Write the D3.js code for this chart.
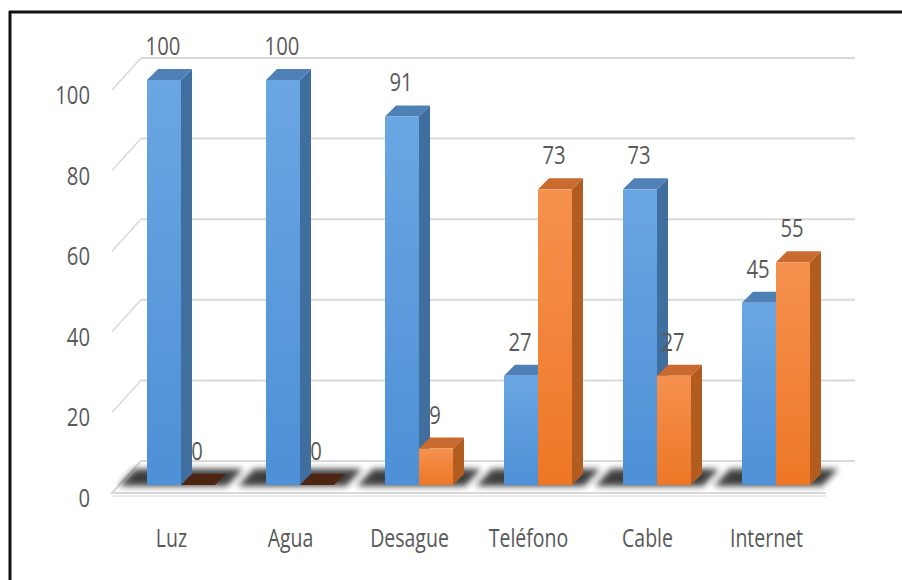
<!DOCTYPE html>
<html><head><meta charset="utf-8">
<script src="https://cdn.jsdelivr.net/npm/d3@7"></script>
<style>html,body{margin:0;padding:0;background:#fff;overflow:hidden}</style>
</head><body>
<svg id="c" width="902" height="580"></svg>
<script>
const categories = ["Luz","Agua","Desague","Teléfono","Cable","Internet"];
const seriesSi = [100,100,91,27,73,45];
const seriesNo = [0,0,9,73,27,55];
const tickValues = [0,20,40,60,80,100];

const svg = d3.select("#c");
const W = 902, H = 580;
const font = "'Open Sans', 'Noto Sans', sans-serif";
const txtCol = "#595959";
const sx = 0.78;

// depth projection of the 3D frame
const DX = 29, DY = -32;
const fx0 = 112, fx1 = 826;
const yFront = d3.scaleLinear().domain([0,100]).range([493, 90]);
const x0 = d3.scaleBand().domain(categories).range([fx0, fx1]);
const x1 = d3.scaleBand().domain(["si","no"]).range([0, 68]);
const yBar = d3.scaleLinear().domain([0,100]).range([485, 80]);
const BOX = 9.5; // bar face x offset into depth
const TD = 11;   // bar top depth

const defs = svg.append("defs");
function grad(id, c1, c2){
  const g = defs.append("linearGradient").attr("id", id).attr("x1",0).attr("y1",0).attr("x2",0).attr("y2",1);
  g.append("stop").attr("offset","0%").attr("stop-color",c1);
  g.append("stop").attr("offset","100%").attr("stop-color",c2);
}
grad("gBlue", "#6aa6e2", "#4d90d6");
grad("gOrange", "#f5914e", "#ee7726");
defs.append("filter").attr("id","blur").attr("x","-50%").attr("y","-50%").attr("width","200%").attr("height","200%")
  .append("feGaussianBlur").attr("stdDeviation", 3);

// frame
svg.append("line").attr("x1",9).attr("x2",W).attr("y1",12).attr("y2",12).attr("stroke","#111").attr("stroke-width",3);
svg.append("line").attr("x1",10).attr("x2",10).attr("y1",11).attr("y2",H).attr("stroke","#111").attr("stroke-width",3);

// floor
const fy0 = yFront(0);
svg.append("polyline")
  .attr("points", [[fx1,fy0],[fx0,fy0],[fx0+DX,fy0+DY],[fx1+DX,fy0+DY]].map(p=>p.join(",")).join(" "))
  .attr("fill","none").attr("stroke","#d9d9d9").attr("stroke-width",2);
svg.append("line").attr("x1",fx0).attr("x2",fx1).attr("y1",fy0+3).attr("y2",fy0+3).attr("stroke","#ececec").attr("stroke-width",2);

// gridlines back wall + side wall diagonals
tickValues.forEach(v=>{
  const yf = yFront(v), yb = yf + DY;
  if (v>0){
    svg.append("line").attr("x1",fx0+DX).attr("x2",fx1+DX).attr("y1",yb).attr("y2",yb)
      .attr("stroke","#d9d9d9").attr("stroke-width",2);
    svg.append("line").attr("x1",fx0).attr("x2",fx0+DX).attr("y1",yf).attr("y2",yb)
      .attr("stroke","#d9d9d9").attr("stroke-width",1.5);
  }
  svg.append("text").attr("transform",`translate(90,${yf+4}) scale(${sx},1)`)
    .attr("text-anchor","end").attr("dominant-baseline","central")
    .attr("font-family",font).attr("font-size",26).attr("fill",txtCol).text(v);
});

// shadows
categories.forEach((c,i)=>{
  const gx = x0(c) + x0.bandwidth()/2 - 34 + BOX;
  const yb = yBar(0);
  svg.append("polygon")
    .attr("points", [[gx-28,yb+1],[gx+68+12,yb+1],[gx+68+28,yb-16],[gx-12,yb-16]].map(p=>p.join(",")).join(" "))
    .attr("fill","#1a1a1a").attr("opacity",0.85).attr("filter","url(#blur)");
});

// bars
const series = [
  {key:"si", vals:seriesSi, front:"url(#gBlue)", side:"#3f6e9f", top:"#4f80b6"},
  {key:"no", vals:seriesNo, front:"url(#gOrange)", side:"#b35c1f", top:"#c96a2f"}
];
const bars = [];
categories.forEach((c,i)=>{
  series.forEach(s=>{
    const v = s.vals[i];
    const xl = x0(c) + x0.bandwidth()/2 - 34 + BOX + x1(s.key);
    bars.push({c, v, s, xl, w: x1.bandwidth()});
  });
});
bars.forEach(b=>{
  const g = svg.append("g");
  const yt = yBar(b.v), yb = yBar(0), xr = b.xl + b.w;
  if (b.v === 0){
    g.append("polygon").attr("points",[[b.xl,yb],[xr,yb],[xr+TD,yb-TD],[b.xl+TD,yb-TD]].map(p=>p.join(",")).join(" "))
      .attr("fill","#4e2512");
  } else {
    g.append("polygon").attr("points",[[xr,yt],[xr+TD,yt-TD],[xr+TD,yb-TD],[xr,yb]].map(p=>p.join(",")).join(" "))
      .attr("fill",b.s.side);
    g.append("polygon").attr("points",[[b.xl,yt],[xr,yt],[xr+TD,yt-TD],[b.xl+TD,yt-TD]].map(p=>p.join(",")).join(" "))
      .attr("fill",b.s.top);
    g.append("rect").attr("x",b.xl).attr("y",yt).attr("width",b.w).attr("height",yb-yt).attr("fill",b.s.front);
  }
});
// value labels
bars.forEach(b=>{
  const yt = yBar(b.v);
  svg.append("text").attr("transform",`translate(${b.xl + b.w/2 - 1},${yt-35}) scale(${sx},1)`)
    .attr("text-anchor","middle").attr("dominant-baseline","central")
    .attr("font-family",font).attr("font-size",26).attr("fill",txtCol).text(b.v);
});

// category labels
categories.forEach(c=>{
  svg.append("text").attr("transform",`translate(${x0(c)+x0.bandwidth()/2},${538}) scale(${sx},1)`)
    .attr("text-anchor","middle").attr("dominant-baseline","central")
    .attr("font-family",font).attr("font-size",25).attr("fill",txtCol).text(c);
});
</script>
</body></html>
